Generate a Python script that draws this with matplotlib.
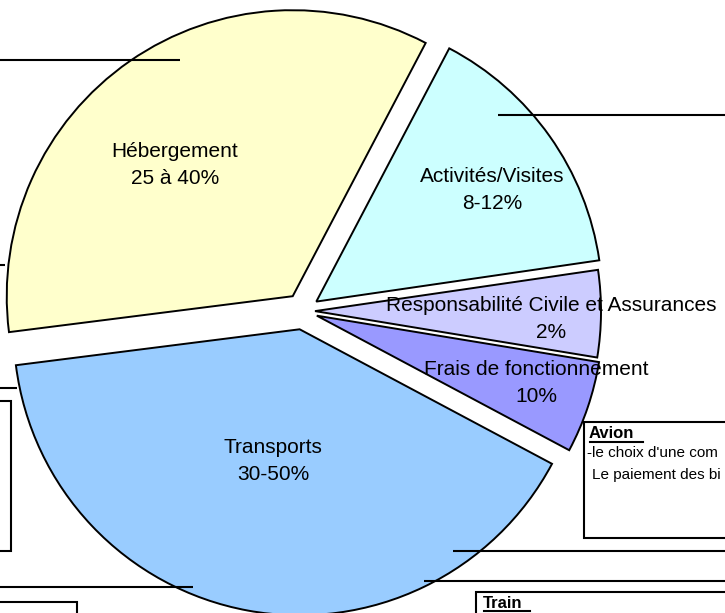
import matplotlib
matplotlib.use("Agg")
import matplotlib.pyplot as plt
import matplotlib.patches as mpatches

plt.rcParams['font.family'] = ['Liberation Sans', 'DejaVu Sans']

# slices, counter-clockwise from the top of "Hébergement"
categories = ['Hébergement', 'Transports', 'Frais de fonctionnement',
              'Responsabilité Civile et Assurances', 'Activités/Visites']
shares = [34.7, 40.2, 5.2, 4.9, 15.0]
labels = ['Hébergement\n25 à 40%', 'Transports\n30-50%', 'Frais de fonctionnement\n10%',
          'Responsabilité Civile et Assurances\n2%', 'Activités/Visites\n8-12%']
colors = ['#FFFFCC', '#99CCFF', '#9999FF', '#CCCCFF', '#CCFFFF']
explode = [0.063, 0.065, 0.051, 0.042, 0.057]
label_pos = [(-0.448, 0.510), (-0.105, -0.524), (0.815, -0.252), (0.867, -0.028), (0.661, 0.423)]

W, H = 725, 613
R = 286.0          # pie radius in pixels
cx, cy = 303, 311  # pie centre in pixels (from top-left)

fig = plt.figure(figsize=(W / 100, H / 100), dpi=100)
ax = fig.add_axes([0, 0, 1, 1])
wedges, _ = ax.pie(shares, colors=colors, explode=explode, startangle=62.3,
                   counterclock=True, radius=1,
                   wedgeprops=dict(edgecolor='black', linewidth=1.4))
ax.set_xlim(-cx / R, (W - cx) / R)
ax.set_ylim(-(H - cy) / R, cy / R)
ax.set_aspect('auto')
ax.axis('off')

for txt, (x, y) in zip(labels, label_pos):
    ax.text(x, y, txt, ha='center', va='center', fontsize=15,
            linespacing=1.5, color='black')

# surrounding page elements (lines and boxes of the document the chart sits in)
ov = fig.add_axes([0, 0, 1, 1])
ov.set_xlim(0, W)
ov.set_ylim(H, 0)
ov.axis('off')
ov.patch.set_visible(False)

hlines = [(60, 0, 180), (265, 0, 5), (115, 498, 725), (388, 0, 17),
          (587, 0, 193), (551, 453, 725), (581, 424, 725)]
for y, x0, x1 in hlines:
    ov.plot([x0, x1], [y, y], color='black', lw=1.5, solid_capstyle='butt')

boxes = [(-5, 401, 16, 150), (-5, 602, 82, 30), (584, 422, 150, 116), (476, 592, 260, 40)]
for x, y, w, h in boxes:
    ov.add_patch(mpatches.Rectangle((x, y), w, h, facecolor='white',
                                    edgecolor='black', lw=1.5))

ov.text(589, 434, 'Avion', fontsize=12, fontweight='bold', va='center', ha='left')
ov.plot([590, 643], [442, 442], color='black', lw=1.5)
ov.text(587, 453, "-le choix d'une com", fontsize=11, va='center', ha='left')
ov.text(592, 475, "Le paiement des bi", fontsize=11, va='center', ha='left')
ov.text(483, 603, 'Train', fontsize=12, fontweight='bold', va='center', ha='left')
ov.plot([484, 530], [611, 611], color='black', lw=1.5)

fig.savefig('out.png', dpi=100)
